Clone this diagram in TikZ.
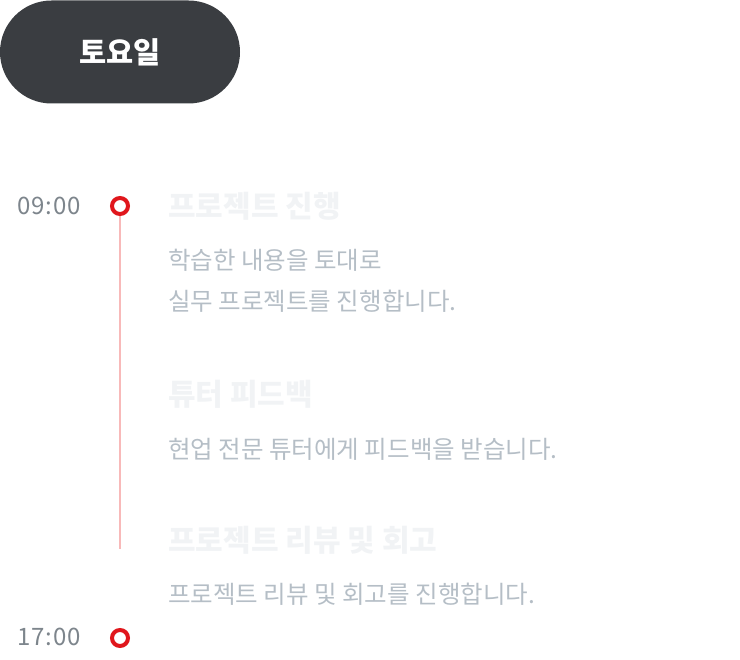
\documentclass[tikz,border=0pt]{standalone}
\usepackage{fontspec}
\setmainfont{Noto Sans CJK KR}
\newfontfamily\timefont[LetterSpace=4]{Noto Sans CJK KR}
\usetikzlibrary{positioning}

\definecolor{pillgray}{HTML}{3A3D41}
\definecolor{timegray}{HTML}{7D858C}
\definecolor{titlegray}{HTML}{F1F3F5}
\definecolor{descgray}{HTML}{B5BEC6}
\definecolor{dotred}{HTML}{E0161C}
\definecolor{linepink}{HTML}{F8B9B9}

\begin{document}
\begin{tikzpicture}[
    x=1pt,y=-1pt,
    daypill/.style={fill=pillgray,rounded corners=51.5pt,minimum width=240pt,minimum height=103pt,inner sep=0pt,text=white,font=\fontsize{29.5}{34}\selectfont\bfseries},
    timenode/.style={anchor=west,inner sep=0pt,text=timegray,font=\timefont\fontsize{24}{28}\selectfont},
    dot/.style={circle,draw=dotred,line width=4pt,minimum size=16pt,inner sep=0pt,fill=white},
    timeline/.style={draw=linepink,line width=2pt},
    titlenode/.style={anchor=west,inner sep=0pt,text=titlegray,font=\fontsize{30}{34}\selectfont\bfseries},
    descnode/.style={anchor=west,inner sep=0pt,text=descgray,font=\fontsize{24.5}{28}\selectfont},
  ]

  \useasboundingbox (0,0) rectangle (740,660);

  % day

  \node (day) at (120,52) [daypill] {토요일};

  % start and end of the day

  \node (t1) at (17,206) [timenode] {09:00};
  \node (t2) at (17,637) [timenode] {17:00};

  \coordinate (lineend) at (120,549);
  \draw[timeline] (120,216) -- (lineend);

  \node (d1) at (120,206) [dot] {};
  \node (d2) at (120,638) [dot] {};

  % sessions

  \foreach \y/\txt [count=\i] in {206/프로젝트 진행,394/튜터 피드백,540/프로젝트 리뷰 및 회고}
    \node (title-\i) at (168,\y) [titlenode] {\txt};

  \node (desc-1a) at (168,260) [descnode] {학습한 내용을 토대로};
  \node (desc-1b) at (168,301) [descnode] {실무 프로젝트를 진행합니다.};
  \node (desc-2) at (168,449) [descnode] {현업 전문 튜터에게 피드백을 받습니다.};
  \node (desc-3) at (168,594) [descnode] {프로젝트 리뷰 및 회고를 진행합니다.};

\end{tikzpicture}
\end{document}
